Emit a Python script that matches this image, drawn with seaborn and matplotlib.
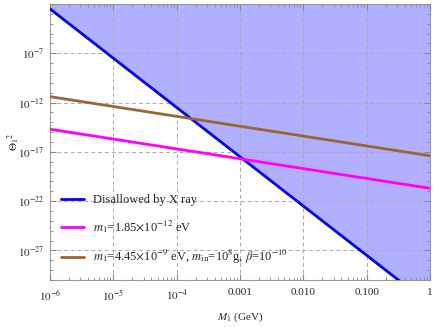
import matplotlib
matplotlib.use("Agg")
import matplotlib.pyplot as plt
import matplotlib.ticker as mticker
import numpy as np
import seaborn as sns

# Data (straight lines in log-log)
M1 = [1e-6, 1.0]
theta_xray = [10 ** -2.5, 10 ** -32.5]
theta_m1 = [10 ** -14.7, 10 ** -20.7]
theta_pbh = [10 ** -11.4, 10 ** -17.4]

labels = [
    "Disallowed by X ray",
    r"$m_1$=1.85$\times$10$^{-12}$ eV",
    r"$m_1$=4.45$\times$10$^{-9}$ eV, $m_{\rm in}$=10$^8$g, $\beta$=10$^{-10}$",
]
colors = ["#0000ff", "#ff00ff", "#996633"]

sns.set_style("ticks")
plt.rcParams["font.family"] = ["Liberation Serif", "DejaVu Serif"]
plt.rcParams["mathtext.fontset"] = "stix"

fig = plt.figure(figsize=(4.36, 3.27), dpi=100)
ax = fig.add_axes([0.1147, 0.1437, 0.8716, 0.8441])

ymin, ymax = 1e-30, 1e-2
ax.fill_between(M1, theta_xray, ymax, color="#b0b0ff", lw=0, zorder=1)

for y, c, lab in zip([theta_xray, theta_m1, theta_pbh], colors, labels):
    sns.lineplot(x=M1, y=y, color=c, lw=2, label=lab, ax=ax, zorder=3)

ax.set_xscale("log")
ax.set_yscale("log")
ax.set_xlim(1e-6, 1)
ax.set_ylim(ymin, ymax)

ax.xaxis.set_major_locator(mticker.FixedLocator([1e-6, 1e-5, 1e-4, 1e-3, 1e-2, 1e-1, 1]))
ax.set_xticklabels([r"$10^{-6}$", r"$10^{-5}$", r"$10^{-4}$", "0.001", "0.010", "0.100", "1"])
ax.xaxis.set_minor_locator(mticker.LogLocator(base=10, subs=np.arange(2, 10)))
ax.xaxis.set_minor_formatter(mticker.NullFormatter())

ax.yaxis.set_major_locator(mticker.FixedLocator([1e-27, 1e-22, 1e-17, 1e-12, 1e-7]))
ax.set_yticklabels([r"$10^{-27}$", r"$10^{-22}$", r"$10^{-17}$", r"$10^{-12}$", r"$10^{-7}$"])
ax.yaxis.set_minor_locator(mticker.FixedLocator([10.0 ** k for k in range(-30, -1)]))
ax.yaxis.set_minor_formatter(mticker.NullFormatter())

ax.grid(True, which="major", color="#aaaaaa", ls=(0, (4, 3)), lw=0.7, zorder=2)
ax.set_axisbelow(False)

ax.tick_params(which="both", direction="in", top=True, right=True,
               color="#888888", labelsize=8)
ax.tick_params(axis="x", pad=6)
ax.tick_params(axis="y", pad=4)
ax.tick_params(which="major", length=4)
ax.tick_params(which="minor", length=2)
for s in ax.spines.values():
    s.set_color("#999999")

ax.set_xlabel(r"$M_1$ (GeV)", fontsize=8, labelpad=5)
ax.set_ylabel(r"$\Theta_1{}^2$", fontsize=8)
ax.yaxis.set_label_coords(-0.075, 0.5)

ax.legend(loc="lower left", frameon=False, fontsize=9, handlelength=1.85,
          handletextpad=0.7, labelspacing=1.0, bbox_to_anchor=(0.0, 0.01))

fig.savefig("out.png", dpi=100)
